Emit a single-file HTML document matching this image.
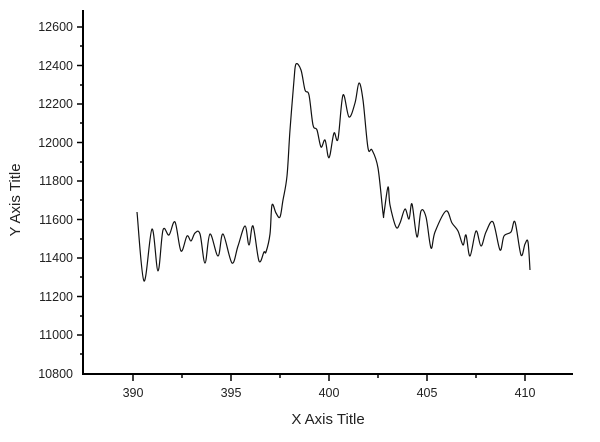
<!DOCTYPE html><html><head><style>body{margin:0;background:#fff}svg{display:block}text{font-family:"Liberation Sans",Arial,sans-serif;fill:#222}</style></head><body>
<svg width="600" height="442" viewBox="0 0 600 442">
<g stroke="#000" stroke-width="2" fill="none">
<line x1="83" y1="10" x2="83" y2="375"/>
<line x1="82" y1="374" x2="573" y2="374"/>
</g>
<g stroke="#000" stroke-width="1.5">
<line x1="77" y1="27" x2="83" y2="27"/><line x1="77" y1="65.5" x2="83" y2="65.5"/><line x1="77" y1="104" x2="83" y2="104"/><line x1="77" y1="142.5" x2="83" y2="142.5"/><line x1="77" y1="181" x2="83" y2="181"/><line x1="77" y1="219.5" x2="83" y2="219.5"/><line x1="77" y1="258" x2="83" y2="258"/><line x1="77" y1="296.5" x2="83" y2="296.5"/><line x1="77" y1="335" x2="83" y2="335"/>
<line x1="80" y1="46" x2="83" y2="46"/><line x1="80" y1="85" x2="83" y2="85"/><line x1="80" y1="123" x2="83" y2="123"/><line x1="80" y1="162" x2="83" y2="162"/><line x1="80" y1="200" x2="83" y2="200"/><line x1="80" y1="239" x2="83" y2="239"/><line x1="80" y1="277" x2="83" y2="277"/><line x1="80" y1="316" x2="83" y2="316"/><line x1="80" y1="354" x2="83" y2="354"/>
<line x1="133" y1="374" x2="133" y2="381"/><line x1="231" y1="374" x2="231" y2="381"/><line x1="329" y1="374" x2="329" y2="381"/><line x1="427" y1="374" x2="427" y2="381"/><line x1="525" y1="374" x2="525" y2="381"/>
<line x1="182" y1="374" x2="182" y2="378"/><line x1="280" y1="374" x2="280" y2="378"/><line x1="378" y1="374" x2="378" y2="378"/><line x1="476" y1="374" x2="476" y2="378"/>
</g>
<g font-size="12.5" text-anchor="end">
<text x="73" y="31">12600</text><text x="73" y="70">12400</text><text x="73" y="108">12200</text><text x="73" y="147">12000</text><text x="73" y="185">11800</text><text x="73" y="224">11600</text><text x="73" y="262">11400</text><text x="73" y="301">11200</text><text x="73" y="339">11000</text><text x="73" y="378">10800</text>
</g>
<g font-size="12.5" text-anchor="middle">
<text x="133" y="397">390</text><text x="231" y="397">395</text><text x="329" y="397">400</text><text x="427" y="397">405</text><text x="525" y="397">410</text>
</g>
<text x="328" y="424" font-size="15" text-anchor="middle">X Axis Title</text>
<text transform="translate(20,200) rotate(-90)" font-size="15" text-anchor="middle">Y Axis Title</text>
<path id="c" fill="none" stroke="#111" stroke-width="1.2" stroke-linejoin="round" d=""/>
</svg>
<script>
var s="137,212 144,281 152,229 158,271 163,230 169,235 175,222 181,251 187,236 191,241 195,233 200,234 205,263 210,234 218,256 223,234 232,263 238,246 245,226 249,245 253,226 259,261 264,252 266,252 270,234 272,205 276,213 280,217 283,200 287,176 290,130 294,80 296,64 301,70 305,90 309,95 313,125 317,130 321,147 325,140 328,156 330,155 334,133 338,139 343,95 349,117 355,103 359,83 363,100 368,148 372,150 378,168 383,213 384,213 388,187 390,205 396,227 400,223 405,209 409,219 412,204 417,237 421,211 426,217 431,248 435,232 446,211 452,223 458,231 463,245 466,235 470,256 476,231 481,246 486,232 493,222 500,250 504,236 511,232 515,222 521,255 525,244 528,242 530,270";
var p=s.split(" ").map(function(t){return t.split(",").map(Number)});
var d="M"+p[0][0]+","+p[0][1];
for(var i=0;i<p.length-1;i++){var a=p[Math.max(i-1,0)],b=p[i],c=p[i+1],e=p[Math.min(i+2,p.length-1)];
var c1x=b[0]+(c[0]-a[0])/6,c1y=b[1]+(c[1]-a[1])/6,c2x=c[0]-(e[0]-b[0])/6,c2y=c[1]-(e[1]-b[1])/6;
d+=" C"+c1x.toFixed(1)+","+c1y.toFixed(1)+" "+c2x.toFixed(1)+","+c2y.toFixed(1)+" "+c[0]+","+c[1];}
document.getElementById("c").setAttribute("d",d);
</script>
</body></html>
